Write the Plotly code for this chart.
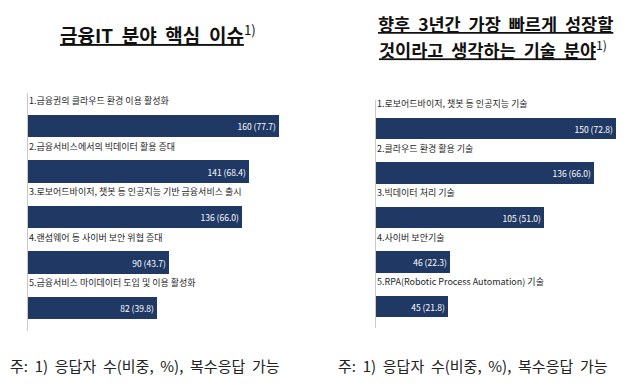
import plotly.graph_objects as go

# ---- data ----
left_title = "금융IT  분야  핵심  이슈"
left_labels = [
    "1.금융권의 클라우드 환경 이용 활성화",
    "2.금융서비스에서의 빅데이터 활용 증대",
    "3.로보어드바이저, 챗봇 등 인공지능 기반 금융서비스 출시",
    "4.랜섬웨어 등 사이버 보안 위협 증대",
    "5.금융서비스 마이데이터 도입 및 이용 활성화",
]
left_counts = [160, 141, 136, 90, 82]
left_shares = [77.7, 68.4, 66.0, 43.7, 39.8]

right_title_1 = "향후  3년간  가장  빠르게  성장할"
right_title_2 = "것이라고  생각하는  기술  분야"
right_labels = [
    "1.로보어드바이저, 챗봇 등 인공지능 기술",
    "2.클라우드 환경 활용 기술",
    "3.빅데이터 처리 기술",
    "4.사이버 보안기술",
    "5.RPA(Robotic Process Automation) 기술",
]
right_counts = [150, 136, 105, 46, 45]
right_shares = [72.8, 66.0, 51.0, 22.3, 21.8]

footnote = "주:  1)  응답자  수(비중,  %),  복수응답  가능"

# ---- styles ----
W, H = 640, 389
BAR = "#1f3864"
KR = "Noto Sans CJK KR"

def py(p):  # pixel from top -> paper y
    return 1 - p / H

def px(p):
    return p / W

fig = go.Figure()

panels = [
    dict(labels=left_labels, counts=left_counts, shares=left_shares,
         xa="x", ya="y", xdom=(20, 300), px_per=1.57,
         ytop=85, ybot=323, c0=118, step=45.5, bw=0.505),
    dict(labels=right_labels, counts=right_counts, shares=right_shares,
         xa="x2", ya="y2", xdom=(368, 630), px_per=1.6,
         ytop=92, ybot=320, c0=120.5, step=44.5, bw=0.48),
]

for i, p in enumerate(panels):
    n = len(p["counts"])
    ys = list(range(n))
    texts = [f"{c} ({s:.1f})" for c, s in zip(p["counts"], p["shares"])]
    fig.add_trace(go.Bar(
        x=p["counts"], y=ys, orientation="h", xaxis=p["xa"], yaxis=p["ya"],
        marker=dict(color=BAR, line=dict(width=0)), width=p["bw"],
        text=texts, textposition="inside", insidetextanchor="end",
        textfont=dict(family=KR, size=8.5, color="white"),
        hoverinfo="skip", showlegend=False,
    ))
    for j, lab in enumerate(p["labels"]):
        fig.add_annotation(
            x=0, y=j - 0.56, xref=p["xa"], yref=p["ya"], text=lab,
            showarrow=False, xanchor="left", yanchor="middle", xshift=-1,
            font=dict(family=KR, size=9, color="#262626"),
        )
    xwidth = p["xdom"][1] - p["xdom"][0]
    y0 = (p["ytop"] - p["c0"]) / p["step"]
    y1 = (p["ybot"] - p["c0"]) / p["step"]
    suffix = "" if i == 0 else "2"
    fig.update_layout(**{
        f"xaxis{suffix}": dict(domain=[px(p["xdom"][0]), px(p["xdom"][1])],
                               range=[0, xwidth / p["px_per"]], visible=False,
                               fixedrange=True),
        f"yaxis{suffix}": dict(domain=[py(p["ybot"]), py(p["ytop"])],
                               range=[y1, y0], showticklabels=False,
                               showgrid=False, zeroline=False, showline=True,
                               linecolor="#c8c8c8", linewidth=1, ticks="",
                               anchor=p["xa"], fixedrange=True),
    })

# titles
fig.add_annotation(x=px(150), y=py(26), xref="paper", yref="paper",
                   text=f"<b><u>{left_title}</u></b><sup>1)</sup>",
                   showarrow=False, xanchor="center", yanchor="middle",
                   font=dict(family=KR, size=19, color="#111111"))
fig.add_annotation(x=px(487), y=py(16), xref="paper", yref="paper",
                   text=f"<b><u>{right_title_1}</u></b>",
                   showarrow=False, xanchor="center", yanchor="middle",
                   font=dict(family=KR, size=17.5, color="#111111"))
fig.add_annotation(x=px(485), y=py(41), xref="paper", yref="paper",
                   text=f"<b><u>{right_title_2}</u></b><sup>1)</sup>",
                   showarrow=False, xanchor="center", yanchor="middle",
                   font=dict(family=KR, size=17.5, color="#111111"))

# footnotes
fig.add_annotation(x=0, y=py(357), xref="paper", yref="paper",
                   text=footnote, showarrow=False, xanchor="left",
                   yanchor="middle", font=dict(family=KR, size=15, color="#222222"))
fig.add_annotation(x=px(328), y=py(357), xref="paper", yref="paper",
                   text=footnote, showarrow=False, xanchor="left",
                   yanchor="middle", font=dict(family=KR, size=15, color="#222222"))

fig.update_layout(
    width=W, height=H, margin=dict(l=0, r=0, t=0, b=0),
    paper_bgcolor="white", plot_bgcolor="white", bargap=0,
)

fig.write_html("out.html")
